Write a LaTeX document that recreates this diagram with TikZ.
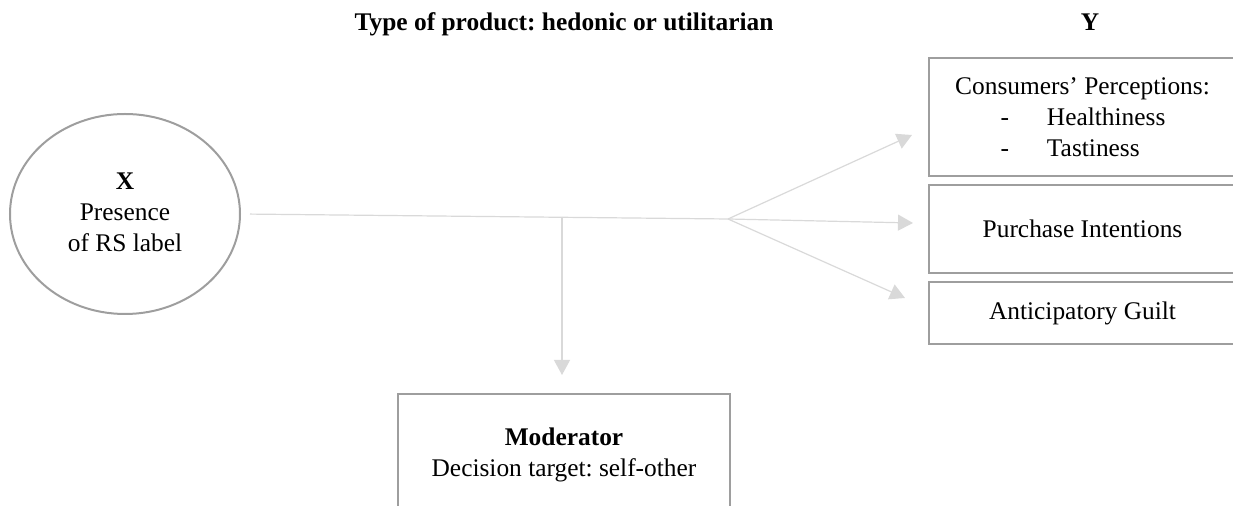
\documentclass[tikz,border=0pt]{standalone}
\usepackage{fontspec}
\setmainfont{Liberation Serif}
\usetikzlibrary{shapes.geometric,arrows.meta}
\frenchspacing

\begin{document}
\begin{tikzpicture}[x=0.5pt,y=-0.5pt,
    font=\fontsize{12.7}{15.5}\selectfont,
    box/.style={draw=black!38, line width=1pt, align=center, inner sep=0pt},
    arr/.style={draw=black!15, line width=0.6pt, -{Triangle[length=7.5pt,width=8pt]}}]
  \clip (0,0) rectangle (1233,506);
  \useasboundingbox (0,0) rectangle (1233,506);
  % headings
  \node[font=\fontsize{12.7}{15.5}\selectfont\bfseries, anchor=base] (type) at (564,31) {Type of product: hedonic or utilitarian};
  \node[font=\fontsize{12.7}{15.5}\selectfont\bfseries, anchor=base] (y) at (1090,31) {Y};
  % independent variable
  \node[box, ellipse, minimum width=115pt, minimum height=100pt, text depth=2pt] (x) at (125,214) {\textbf{X}\\Presence\\of RS label};
  % outcomes
  \node[box, minimum width=153.5pt, minimum height=59pt] (perc) at (1082.5,117)
    {Consumers’ Perceptions:\\
     \makebox[82pt][l]{-\hspace{19pt}Healthiness}\\
     \makebox[82pt][l]{-\hspace{19pt}Tastiness}};
  \node[box, minimum width=153.5pt, minimum height=44pt] (purch) at (1082.5,229) {Purchase Intentions};
  \node[box, minimum width=153.5pt, minimum height=31pt] (guilt) at (1082.5,313) {Anticipatory Guilt};
  % moderator
  \node[box, minimum width=166pt, minimum height=61pt] (moder) at (564,455) {\textbf{Moderator}\\Decision target: self-other};
  % connectors
  \coordinate (split) at (728,219);
  \coordinate (mid) at (562,217);
  \coordinate (tperc) at (912,135);
  \coordinate (tpurch) at (913,223);
  \coordinate (tguilt) at (905,298);
  \draw[draw=black!15, line width=0.6pt, shorten <=4.5pt] (x.east) -- (split);
  \draw[arr, shorten >=9pt] (mid) -- (mid |- moder.north);
  \draw[arr] (split) -- (tperc);
  \draw[arr] (split) -- (tpurch);
  \draw[arr] (split) -- (tguilt);
\end{tikzpicture}
\end{document}
